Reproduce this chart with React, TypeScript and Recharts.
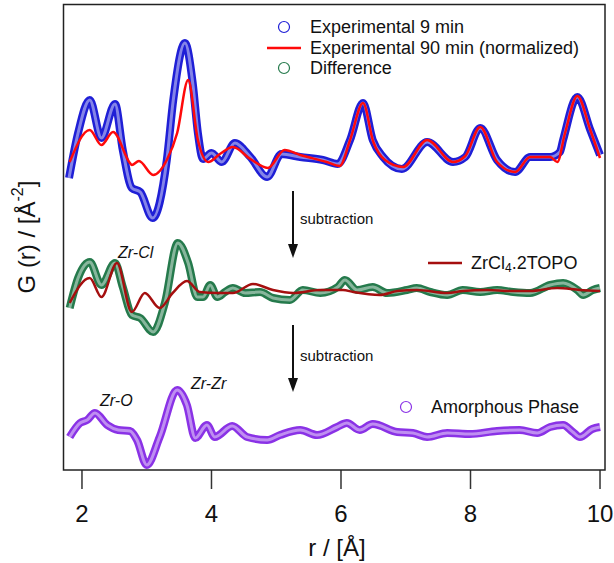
import { LineChart, Line, XAxis, YAxis } from "recharts";

// r / Å (x) and G(r) (y, relative to each curve's baseline)
const rExp9 = [1.8, 1.94, 2.12, 2.3, 2.51, 2.63, 2.77, 2.9, 3.09, 3.31, 3.41, 3.59, 3.71, 3.79, 3.87, 4.0, 4.16, 4.36, 4.6, 4.86, 5.08, 5.37, 5.72, 5.95, 6.14, 6.34, 6.49, 6.65, 6.94, 7.33, 7.73, 7.92, 8.15, 8.41, 8.69, 8.92, 9.23, 9.38, 9.43, 9.65, 9.85, 10.0];
const gExp9 = [-2.1, 2.4, 5.7, 1.9, 5.3, 0.7, -3.1, -3.5, -6.1, -0.3, 5.7, 11.4, 7.4, 2.4, -0.2, 0.4, -0.5, 1.4, 0, -2.0, 0.3, 0, -0.3, -0.7, 1.7, 5.4, 1.7, 0, -1.2, 1.5, -0.5, 0, 2.9, -0.3, -1.5, 0, 0, 0.5, 1.7, 6.0, 2.7, 0.2];

const rExp90 = [1.81, 2.12, 2.3, 2.48, 2.74, 2.77, 2.88, 3.1, 3.31, 3.47, 3.64, 3.79, 3.95, 4.13, 4.33, 4.6, 4.87, 5.13, 5.37, 5.78, 5.98, 6.14, 6.34, 6.5, 6.68, 6.96, 7.33, 7.73, 7.92, 8.15, 8.41, 8.69, 8.92, 9.23, 9.34, 9.46, 9.65, 9.85, 10.0];
const gExp90 = [-0.5, 2.7, 1.2, 2.5, -0.6, -0.8, -0.4, -1.8, -0.3, 2.4, 7.7, 1.7, -0.5, 0.3, 1.0, -0.2, -1.1, 0.7, 0.2, -0.5, -0.9, 1.7, 5.4, 1.5, -0.3, -1.0, 1.7, -0.5, 0.1, 3.0, -0.5, -1.5, 0, 0, -0.5, 2.4, 6.1, 2.7, -0.1];

const rDiff = [1.81, 1.94, 2.12, 2.3, 2.51, 2.63, 2.77, 2.9, 3.1, 3.28, 3.48, 3.64, 3.78, 3.87, 3.98, 4.09, 4.21, 4.33, 4.52, 4.75, 4.95, 5.21, 5.41, 5.68, 5.95, 6.06, 6.25, 6.49, 6.71, 7.02, 7.17, 7.38, 7.64, 7.88, 8.15, 8.41, 8.66, 8.92, 9.23, 9.43, 9.65, 9.74, 9.89, 10.0];
const gDiff = [-1.7, 1.3, 2.9, 0.6, 2.8, 0.4, -2.4, -2.7, -4.1, -1.2, 4.8, 2.8, -0.6, -0.6, 0.6, -0.6, -0.1, 0.3, -0.2, -0.1, -0.7, -0.9, 0.1, -0.2, 0.4, 1.1, 0.1, 0.4, -0.2, 0.1, 0.3, -0.1, -0.4, 0.1, -0.1, 0.1, -0.1, -0.2, 0.6, 0.8, 0.1, -0.4, 0.1, 0.3];

const rTopo = [1.81, 2.12, 2.3, 2.54, 2.77, 2.97, 3.2, 3.4, 3.62, 3.82, 4.09, 4.33, 4.64, 4.95, 5.26, 5.68, 6.03, 6.19, 6.6, 6.87, 7.17, 7.64, 7.88, 8.26, 8.61, 8.92, 9.34, 9.69, 10.0];
const gTopo = [-1.2, 1.3, -0.6, 2.8, -2.1, -0.2, -1.7, -0.2, 1.0, -0.1, -0.2, -0.2, 0.7, 0.1, -0.2, 0.1, 0.1, -0.1, -0.4, 0, 0.1, -0.2, 0, 0.1, 0, 0, 0.3, 0.1, 0];

const rAmor = [1.81, 1.97, 2.08, 2.2, 2.39, 2.56, 2.74, 2.85, 3.0, 3.2, 3.47, 3.62, 3.75, 3.93, 4.05, 4.32, 4.55, 4.86, 5.06, 5.37, 5.63, 5.94, 6.09, 6.29, 6.49, 6.87, 7.11, 7.33, 7.64, 7.99, 8.41, 8.76, 9.03, 9.23, 9.43, 9.58, 9.69, 9.88, 10.0];
const gAmor = [-0.5, 0.9, 1.2, 1.9, 0.7, 0.2, 0.1, -0.8, -3.3, -0.5, 4.2, 2.7, -0.6, 0.7, -0.5, 0.6, -0.5, -0.8, -0.3, 0.2, -0.3, 0.5, 0.9, 0.2, 0.8, 0, -0.1, -0.5, -0.1, -0.2, 0.1, 0.2, -0.1, 0.5, 0.7, 0, -0.5, 0.3, 0.5];

// vertical offsets used to stack the curves
const offTop = 31.3;
const offMid = 17.9;
const offBot = 3.8;

const xTicks = [2, 4, 6, 8, 10];

const toPoints = (r: number[], g: number[], off: number) =>
  r.map((x, i) => ({ r: x, v: g[i] + off }));

const exp9 = toPoints(rExp9, gExp9, offTop);
const exp90 = toPoints(rExp90, gExp90, offTop);
const diff = toPoints(rDiff, gDiff, offMid);
const topo = toPoints(rTopo, gTopo, offMid);
const amor = toPoints(rAmor, gAmor, offBot);

const FONT = "'Liberation Sans', Arial, sans-serif";
const BLUE = "#1f1fd6";
const RED = "#ff0a0a";
const GREEN = "#257a4c";
const DARKRED = "#a50f0f";
const PURPLE = "#8a32e6";

// circle-marker series drawn as a thick tube with a lighter core
function tube(data: { r: number; v: number }[], color: string, key: string) {
  return [
    <Line
      key={key + "o"}
      data={data}
      dataKey="v"
      type="monotone"
      stroke={color}
      strokeWidth={8}
      dot={false}
      isAnimationActive={false}
    />,
    <Line
      key={key + "i"}
      data={data}
      dataKey="v"
      type="monotone"
      stroke="#ffffff"
      strokeOpacity={0.45}
      strokeWidth={3}
      dot={false}
      isAnimationActive={false}
    />,
  ];
}

export default function App() {
  return (
    <div style={{ position: "absolute", left: 0, top: 0, width: 614, height: 563, background: "#fff" }}>
      <LineChart width={614} height={563} margin={{ top: 4, right: 9, bottom: 0, left: 63 }}>
        <XAxis
          dataKey="r"
          type="number"
          domain={[1.707, 10.077]}
          allowDataOverflow
          ticks={xTicks}
          tickSize={19}
          tickMargin={16}
          height={93}
          axisLine={false}
          tickLine={{ stroke: "#333", strokeWidth: 1.5 }}
          tick={{ fontSize: 24, fill: "#111", fontFamily: FONT }}
        />
        <YAxis hide type="number" domain={[0, 46.6]} allowDataOverflow />
        {tube(exp9, BLUE, "e9")}
        <Line data={exp90} dataKey="v" type="monotone" stroke={RED} strokeWidth={2.5} dot={false} isAnimationActive={false} />
        {tube(diff, GREEN, "df")}
        <Line data={topo} dataKey="v" type="monotone" stroke={DARKRED} strokeWidth={2.5} dot={false} isAnimationActive={false} />
        {tube(amor, PURPLE, "am")}
      </LineChart>
      <svg width={614} height={563} style={{ position: "absolute", left: 0, top: 0, pointerEvents: "none" }} fontFamily={FONT}>
        <rect x={63.5} y={4.5} width={541.5} height={465.5} fill="none" stroke="#222" strokeWidth={1.5} />
        {/* top legend */}
        <circle cx={284} cy={27} r={5.5} fill="none" stroke={BLUE} strokeWidth={1.2} />
        <text x={310} y={27} fontSize={18} dominantBaseline="central" fill="#111">Experimental 9 min</text>
        <line x1={267} y1={48} x2={301} y2={48} stroke={RED} strokeWidth={2.5} />
        <text x={310} y={48} fontSize={18} dominantBaseline="central" fill="#111">Experimental 90 min (normalized)</text>
        <circle cx={284} cy={68} r={5.5} fill="none" stroke={GREEN} strokeWidth={1.2} />
        <text x={310} y={68} fontSize={18} dominantBaseline="central" fill="#111">Difference</text>
        {/* middle legend */}
        <line x1={428} y1={263} x2={462} y2={263} stroke={DARKRED} strokeWidth={2.5} />
        <text x={471} y={263} fontSize={18} dominantBaseline="central" fill="#111">
          ZrCl<tspan fontSize={12} dy={5}>4</tspan><tspan dy={-5}>.2TOPO</tspan>
        </text>
        {/* bottom legend */}
        <circle cx={406} cy={407} r={5.5} fill="none" stroke={PURPLE} strokeWidth={1.2} />
        <text x={431} y={407} fontSize={18} dominantBaseline="central" fill="#111">Amorphous Phase</text>
        {/* arrows */}
        <line x1={293} y1={191} x2={293} y2={248} stroke="#111" strokeWidth={2} />
        <polygon points="288,244 298,244 293,258" fill="#111" />
        <text x={300} y={218} fontSize={15} dominantBaseline="central" fill="#111">subtraction</text>
        <line x1={293} y1={325} x2={293} y2={382} stroke="#111" strokeWidth={2} />
        <polygon points="288,378 298,378 293,392" fill="#111" />
        <text x={300} y={355} fontSize={15} dominantBaseline="central" fill="#111">subtraction</text>
        {/* peak labels */}
        <text x={118} y={252} fontSize={16} fontStyle="italic" dominantBaseline="central" fill="#111">Zr-Cl</text>
        <text x={100} y={400} fontSize={16} fontStyle="italic" dominantBaseline="central" fill="#111">Zr-O</text>
        <text x={191} y={383} fontSize={16} fontStyle="italic" dominantBaseline="central" fill="#111">Zr-Zr</text>
        {/* axis titles */}
        <text x={337} y={547} fontSize={24} textAnchor="middle" dominantBaseline="central" fill="#111">r / [Å]</text>
        <text transform="translate(26,237) rotate(-90)" fontSize={24} textAnchor="middle" dominantBaseline="central" fill="#111">
          G (r) / [Å<tspan fontSize={16} dy={-9}>-2</tspan><tspan dy={9}>]</tspan>
        </text>
      </svg>
    </div>
  );
}
